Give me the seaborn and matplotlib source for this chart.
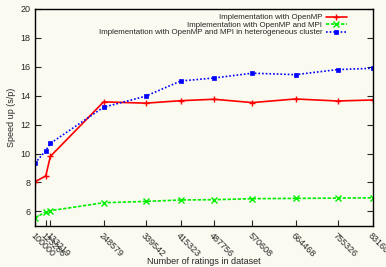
import matplotlib
matplotlib.use("Agg")
import matplotlib.pyplot as plt
import seaborn as sns
import pandas as pd

sns.set_style("ticks")
plt.rcParams['font.family'] = ['Liberation Sans', 'DejaVu Sans']

ratings = [100000, 123286, 133219, 248579, 339542, 415323, 487756, 570608, 664468, 755326, 831600]
tick_labels = ["100000", "123286", "133219", "248579", "339542", "415323", "487756", "570608", "664468", "755326", "831600"]
openmp = [8.05, 8.45, 9.8, 13.57, 13.48, 13.65, 13.75, 13.52, 13.77, 13.63, 13.7]
openmp_mpi = [5.55, 5.96, 6.05, 6.6, 6.69, 6.79, 6.81, 6.88, 6.9, 6.92, 6.94]
hetero = [9.33, 10.2, 10.7, 13.2, 13.96, 15.01, 15.22, 15.55, 15.45, 15.8, 15.89]
labels = ["Implementation with OpenMP",
          "Implementation with OpenMP and MPI",
          "Implementation with OpenMP and MPI in heterogeneous cluster"]

bg = '#fafaf0'
fig = plt.figure(figsize=(3.86, 2.67), dpi=100, facecolor=bg)
ax = fig.add_axes([0.0907, 0.154, 0.875, 0.813])
ax.set_facecolor(bg)

sns.lineplot(x=ratings, y=openmp, ax=ax, color='#ff0000', lw=1.2, marker='+',
             markersize=5, markeredgewidth=1.0, markeredgecolor='#ff0000', label=labels[0])
sns.lineplot(x=ratings, y=openmp_mpi, ax=ax, color='#00ee00', lw=1.2, marker='x',
             markersize=4, markeredgewidth=1.0, markeredgecolor='#00ee00', label=labels[1],
             linestyle=(0, (2, 1)))
sns.lineplot(x=ratings, y=hetero, ax=ax, color='#0000ff', lw=1.2, marker='s',
             markersize=3.2, markeredgewidth=0.5, markeredgecolor='#0000ff', label=labels[2],
             linestyle=(0, (1, 1.2)))

ax.set_xlim(100000, 831600)
ax.set_ylim(5, 20)
ax.set_yticks([6, 8, 10, 12, 14, 16, 18, 20])
ax.set_xticks(ratings)
ax.set_xticklabels(tick_labels, rotation=-45, ha='left', va='top', rotation_mode='anchor', fontsize=6.5)
ax.tick_params(axis='y', labelsize=6.5, direction='in', length=4, width=0.8, right=True, left=True)
ax.tick_params(axis='x', direction='in', length=4, width=0.8, top=False, pad=4)
for s in ax.spines.values():
    s.set_visible(True)
    s.set_linewidth(1.0)
    s.set_color('black')

ax.set_xlabel("Number of ratings in dataset", fontsize=6.5, labelpad=2)
ax.xaxis.set_label_coords(0.5, -0.145)
ax.set_ylabel("Speed up (s/p)", fontsize=6.5, labelpad=3)

leg = ax.legend(loc='upper right', bbox_to_anchor=(1 - 26 / 337.7, 1 - 5 / 217), fontsize=5.7,
                frameon=False, markerfirst=False,
                handlelength=2.6, handletextpad=0.5, labelspacing=0.0,
                borderaxespad=0, borderpad=0, alignment='right')
for t in leg.get_texts():
    t.set_ha('right')

fig.savefig("out.png", dpi=100, facecolor=bg)
